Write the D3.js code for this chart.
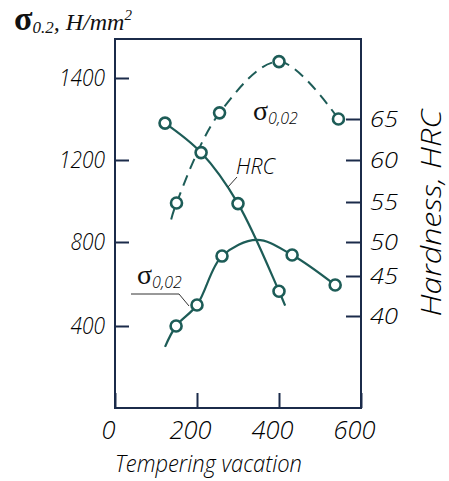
<!DOCTYPE html>
<html>
<head>
<meta charset="utf-8">
<script src="https://cdn.jsdelivr.net/npm/d3@7"></script>
<style>
  body { margin: 0; background: #fff; }
  .lbl { font-family: "Open Sans", "DejaVu Sans", sans-serif; font-style: italic; font-weight: 300; fill: #000; }
  .serif { font-family: "Liberation Serif", "DejaVu Serif", serif; fill: #111; }
</style>
</head>
<body>
<div id="chart"></div>
<script>
// tempering temperature (x) and values
const tempTicks = [0, 200, 400, 600];
const sigmaTicks = [400, 800, 1200, 1400];
const hrcTicks = [40, 45, 50, 55, 60, 65];

// dashed sigma curve (upper)
const sigmaUpT = [150, 255, 400, 545];
const sigmaUpV = [990, 1315, 1440, 1300];
const sigmaUpLineT = [137, 150, 255, 400, 545];
const sigmaUpLineV = [910, 990, 1315, 1440, 1300];

// solid sigma curve (lower)
const sigmaLowT = [149, 200, 261, 432, 537];
const sigmaLowV = [400, 500, 733, 738, 595];
const sigmaLowLineT = [122, 149, 200, 261, 346, 432, 537];
const sigmaLowLineV = [298, 400, 500, 733, 810, 738, 595];

// hardness HRC (right axis)
const hrcT = [122, 210, 300, 400];
const hrcV = [64.5, 60.9, 54.8, 43.1];
const hrcLineT = [122, 210, 300, 400, 415];
const hrcLineV = [64.5, 60.9, 54.8, 43.1, 41.3];

const W = 449, H = 481;
const frame = {left: 115, right: 361, top: 39, bottom: 408};
const lineCol = "#1d5c57";
const axisCol = "#1b2b4a";

const svg = d3.select("#chart").append("svg")
  .attr("width", W).attr("height", H);

const x = d3.scaleLinear().domain([0, 600]).range([frame.left, frame.right]);
// tick labels on the picture are not evenly spaced in value
const yL = d3.scaleLinear().domain([0, 400, 800, 1200, 1400]).range([408, 326, 242, 160, 78]);
const yR = d3.scaleLinear().domain(hrcTicks).range([316, 276, 242, 202, 160, 119]);

// squeeze text to the narrow drafting lettering of the original
function narrow(sel, perChar) {
  sel.attr("lengthAdjust", "spacingAndGlyphs")
    .attr("textLength", function() { return this.textContent.length * perChar; });
}

// frame
svg.append("rect")
  .attr("x", frame.left).attr("y", frame.top)
  .attr("width", frame.right - frame.left).attr("height", frame.bottom - frame.top)
  .attr("fill", "none").attr("stroke", axisCol).attr("stroke-width", 2);

// axes
const gl = svg.append("g").attr("transform", "translate(" + frame.left + ",0)")
  .call(d3.axisLeft(yL).tickValues(sigmaTicks).tickSize(-14).tickPadding(10).tickFormat(d3.format("d")));
const gr = svg.append("g").attr("transform", "translate(" + frame.right + ",0)")
  .call(d3.axisRight(yR).tickValues(hrcTicks).tickSize(-15).tickPadding(9));
const gb = svg.append("g").attr("transform", "translate(0," + frame.bottom + ")")
  .call(d3.axisBottom(x).tickValues(tempTicks).tickSize(-15).tickPadding(13));

[gl, gr, gb].forEach(g => {
  g.select(".domain").remove();
  g.selectAll(".tick line").attr("stroke", axisCol).attr("stroke-width", 2);
  g.selectAll(".tick text").attr("class", "lbl").attr("fill", "#000");
});
gl.selectAll(".tick text").style("font-size", "24px").call(narrow, 11.5);
gr.selectAll(".tick text").style("font-size", "22px").call(narrow, 14);
gb.selectAll(".tick text").style("font-size", "26px").attr("dx", -7).call(narrow, 14);

// curves
const lineL = d3.line().x(d => x(d[0])).y(d => yL(d[1])).curve(d3.curveCatmullRom.alpha(0.5));
const lineR = d3.line().x(d => x(d[0])).y(d => yR(d[1])).curve(d3.curveCatmullRom.alpha(0.5));

svg.append("path")
  .datum(d3.zip(sigmaUpLineT, sigmaUpLineV))
  .attr("d", lineL).attr("fill", "none")
  .attr("stroke", lineCol).attr("stroke-width", 2).attr("stroke-dasharray", "11,7");

svg.append("path")
  .datum(d3.zip(sigmaLowLineT, sigmaLowLineV))
  .attr("d", lineL).attr("fill", "none")
  .attr("stroke", lineCol).attr("stroke-width", 2.2);

svg.append("path")
  .datum(d3.zip(hrcLineT, hrcLineV))
  .attr("d", lineR).attr("fill", "none")
  .attr("stroke", lineCol).attr("stroke-width", 2.2);

// markers
function markers(pts, yScale) {
  svg.append("g").selectAll("circle")
    .data(pts)
    .enter().append("circle")
      .attr("cx", d => x(d[0]))
      .attr("cy", d => yScale(d[1]))
      .attr("r", 5.5)
      .attr("fill", "#fff")
      .attr("stroke", lineCol)
      .attr("stroke-width", 2.6);
}
markers(d3.zip(sigmaUpT, sigmaUpV), yL);
markers(d3.zip(sigmaLowT, sigmaLowV), yL);
markers(d3.zip(hrcT, hrcV), yR);

// curve labels
const up = svg.append("text").attr("x", 253).attr("y", 120);
up.append("tspan").attr("class", "serif").style("font-size", "28px").text("σ");
up.append("tspan").attr("class", "lbl").style("font-size", "16px").attr("dy", 4).text("0,02");

const low = svg.append("text").attr("x", 137).attr("y", 284);
low.append("tspan").attr("class", "serif").style("font-size", "28px").text("σ");
low.append("tspan").attr("class", "lbl").style("font-size", "16px").attr("dy", 4).text("0,02");
svg.append("path")
  .attr("d", "M131,294 L179,294 L189,306")
  .attr("fill", "none").attr("stroke", "#333").attr("stroke-width", 1);

svg.append("text").attr("class", "lbl").attr("x", 236).attr("y", 174)
  .style("font-size", "22px").text("HRC").call(narrow, 13);
svg.append("path")
  .attr("d", "M237,177 L228,187")
  .attr("fill", "none").attr("stroke", "#333").attr("stroke-width", 1);

// title
const t = svg.append("text").attr("x", 14).attr("y", 30);
t.append("tspan").attr("class", "serif").style("font-size", "34px").style("font-weight", "bold").text("σ");
t.append("tspan").attr("class", "serif").style("font-size", "17px").style("font-style", "italic").attr("dy", 3).text("0.2");
t.append("tspan").attr("class", "serif").style("font-size", "24px").style("font-style", "italic").attr("dy", -3).text(", H/mm");
t.append("tspan").attr("class", "serif").style("font-size", "15px").style("font-style", "italic").attr("dy", -10).text("2");

// axis titles
svg.append("text").attr("class", "lbl")
  .attr("x", 115).attr("y", 472)
  .style("font-size", "24px").text("Tempering vacation")
  .attr("lengthAdjust", "spacingAndGlyphs").attr("textLength", 187);

svg.append("text").attr("class", "lbl")
  .attr("transform", "translate(441,213) rotate(-90)")
  .attr("text-anchor", "middle")
  .style("font-size", "28px").text("Hardness, HRC")
  .attr("lengthAdjust", "spacingAndGlyphs").attr("textLength", 207);
</script>
</body>
</html>
